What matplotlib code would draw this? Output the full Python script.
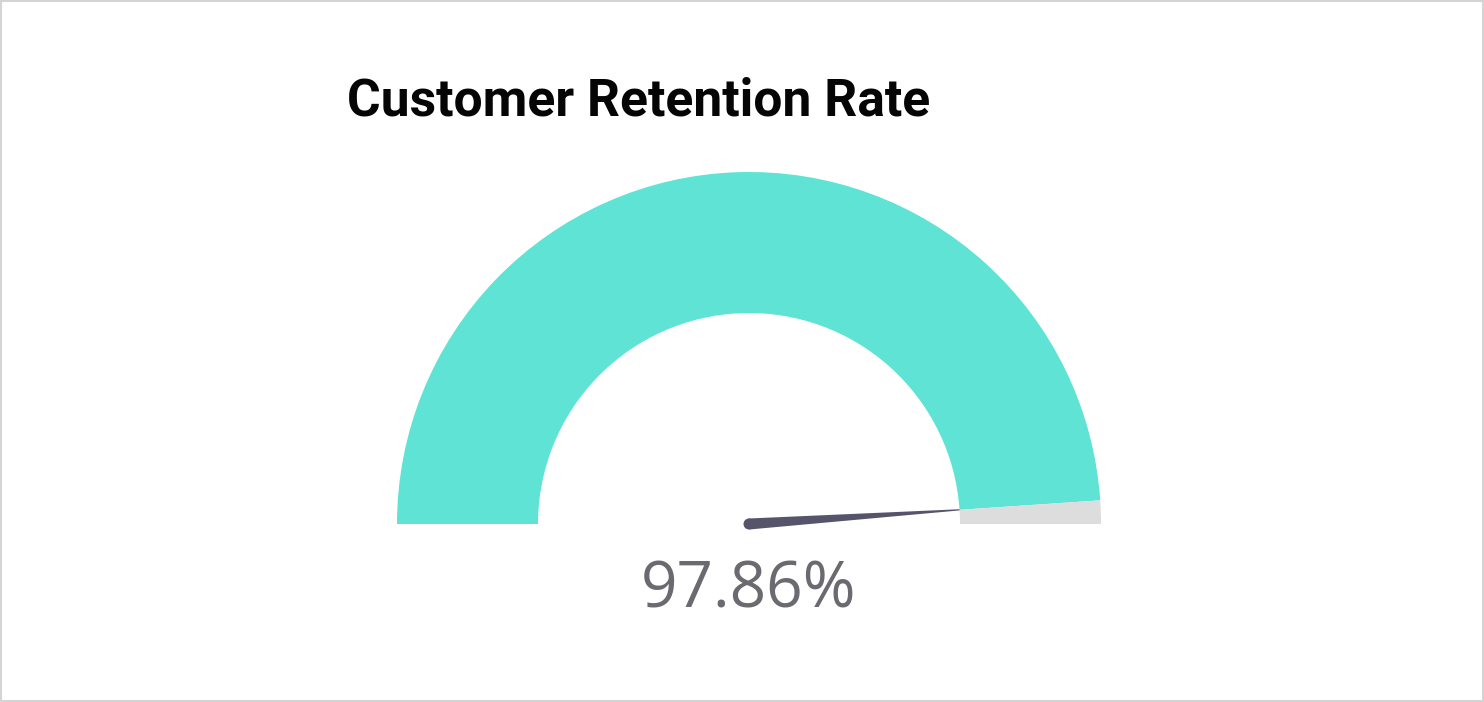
import numpy as np
import matplotlib
matplotlib.use("Agg")
import matplotlib.pyplot as plt
from matplotlib.patches import Wedge, Polygon, Circle, Rectangle

# Gauge data
title = "Customer Retention Rate"
value = 97.86
min_value = 0
max_value = 100

fig = plt.figure(figsize=(14.84, 7.02), dpi=100)
ax = fig.add_axes([0, 0, 1, 1])
ax.set_xlim(0, 1484)
ax.set_ylim(0, 702)
ax.set_aspect("equal")
ax.axis("off")

# frame around the card
fig.patches.append(Rectangle((0.0005, 0.001), 0.999, 0.998, transform=fig.transFigure,
                             fill=False, edgecolor="#d4d4d4", linewidth=1.5))

cx, cy = 749, 178
r_out, r_in = 352, 211
frac = (value - min_value) / (max_value - min_value)
ang = 180 - 180 * frac

# filled part and remaining part
ax.add_patch(Wedge((cx, cy), r_out, ang, 180, width=r_out - r_in,
                   facecolor="#5ee3d4", edgecolor="none"))
ax.add_patch(Wedge((cx, cy), r_out, 0, ang, width=r_out - r_in,
                   facecolor="#dddddd", edgecolor="none"))

# needle
a = np.deg2rad(ang)
ux, uy = np.cos(a), np.sin(a)
px, py = -uy, ux
base_w = 5.5
tip = (cx + r_in * ux, cy + r_in * uy)
needle = Polygon([(cx + base_w * px, cy + base_w * py), (tip[0] + 0.6 * px, tip[1] + 0.6 * py),
                  (tip[0] - 0.6 * px, tip[1] - 0.6 * py), (cx - base_w * px, cy - base_w * py)],
                 closed=True, facecolor="#56546b", edgecolor="none")
ax.add_patch(needle)
ax.add_patch(Circle((cx, cy), base_w, facecolor="#56546b", edgecolor="none"))

ax.text(347, 600, title, fontsize=37.2, fontweight="bold", family="Roboto",
        color="#050505", ha="left", va="center")
ax.text(cx, 112, f"{value:.2f}%", fontsize=46, family="Open Sans",
        color="#6a6a70", ha="center", va="center")

fig.savefig("out.png", dpi=100)
